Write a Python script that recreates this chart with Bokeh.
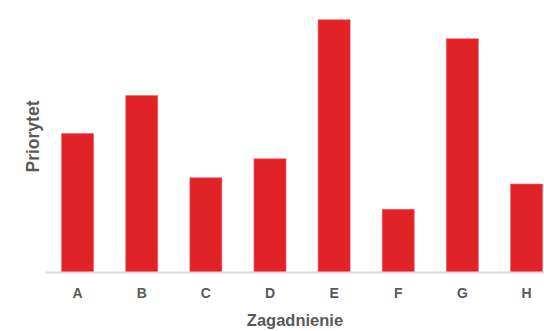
from bokeh.plotting import figure
from bokeh.models import Range1d, FixedTicker, Title, ColumnDataSource
from bokeh.embed import file_html
from bokeh.resources import INLINE

# Issue categories and their priority scores
categories = ["A", "B", "C", "D", "E", "F", "G", "H"]
priority = [5.5, 7.0, 3.75, 4.5, 10.0, 2.5, 9.25, 3.5]

BAR_COLOR = "#E12328"
TEXT_COLOR = "#595959"
FONT = "Liberation Sans"

positions = list(range(len(categories)))
source = ColumnDataSource(dict(x=positions, top=priority, cat=categories))

p = figure(
    width=544, height=331,
    x_range=Range1d(-0.5, 7.28),
    y_range=Range1d(0, 10.76),
    output_backend="svg",
    toolbar_location=None,
    min_border_left=45, min_border_right=0,
    min_border_top=0, min_border_bottom=59,
)

p.vbar(x="x", top="top", width=0.5, source=source,
       fill_color=BAR_COLOR, line_color="#E8676A", line_width=0.6)

# Category axis along the bottom
xa = p.xaxis[0]
xa.ticker = FixedTicker(ticks=positions)
xa.major_label_overrides = {i: c for i, c in zip(positions, categories)}
xa.major_tick_line_color = None
xa.major_tick_out = 0
xa.major_tick_in = 0
xa.minor_tick_line_color = None
xa.axis_line_color = "#D9D9D9"
xa.axis_line_width = 2
xa.major_label_standoff = 12
xa.major_label_text_font = FONT
xa.major_label_text_font_style = "bold"
xa.major_label_text_font_size = "14px"
xa.major_label_text_color = TEXT_COLOR
xa.axis_label = "Zagadnienie"
xa.axis_label_standoff = 7
xa.axis_label_text_font = FONT
xa.axis_label_text_font_style = "bold"
xa.axis_label_text_font_size = "16.5px"
xa.axis_label_text_color = TEXT_COLOR

p.yaxis.visible = False
p.xgrid.visible = False
p.ygrid.visible = False
p.outline_line_color = None
p.background_fill_color = "white"
p.border_fill_color = "white"

# Vertical title for the value axis
p.add_layout(Title(
    text="Priorytet", align="center", offset=9, standoff=6,
    text_font=FONT, text_font_style="bold", text_font_size="17.5px",
    text_color=TEXT_COLOR,
), "left")

open("out.html", "w").write(file_html(p, INLINE))
